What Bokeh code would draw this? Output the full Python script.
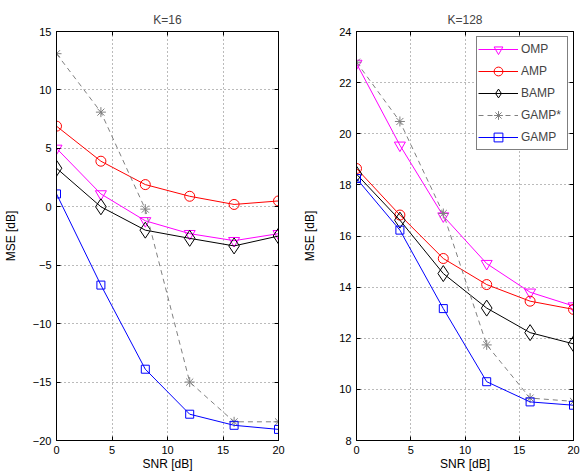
from bokeh.plotting import figure
from bokeh.layouts import row
from bokeh.models import FixedTicker, Range1d, Legend, LinearAxis
from bokeh.embed import file_html
from bokeh.resources import INLINE

snr = [0, 4, 8, 12, 16, 20]

# K=16
k16_omp = [5.0, 1.1, -1.2, -2.3, -2.9, -2.3]
k16_amp = [6.9, 3.9, 1.9, 0.9, 0.2, 0.5]
k16_bamp = [3.3, 0.0, -2.0, -2.7, -3.35, -2.5]
k16_gamps = [13.1, 8.1, -0.2, -15.0, -18.4, -18.4]
k16_gamp = [1.1, -6.7, -13.9, -17.75, -18.7, -19.05]

# K=128
k128_omp = [22.75, 19.55, 16.78, 14.92, 13.8, 13.26]
k128_amp = [18.64, 16.82, 15.12, 14.1, 13.45, 13.13]
k128_bamp = [18.42, 16.62, 14.53, 13.18, 12.22, 11.78]
k128_gamps = [22.8, 20.48, 16.88, 11.74, 9.66, 9.53]
k128_gamp = [18.25, 16.23, 13.16, 10.3, 9.51, 9.38]

x_ticks = [0, 5, 10, 15, 20]
y16_ticks = [-20, -15, -10, -5, 0, 5, 10, 15]
y128_ticks = [8, 10, 12, 14, 16, 18, 20, 22, 24]

FONT = "Liberation Sans"

styles = [
    ("OMP", "#ff00ff", "inverted_triangle", 11, "solid"),
    ("AMP", "#ff0000", "circle", 10, "solid"),
    ("BAMP", "#000000", "diamond", 16, "solid"),
    ("GAMP*", "#808080", "asterisk", 10, "5 4"),
    ("GAMP", "#0000ff", "square", 8, "solid"),
]


def style_axis(ax, ticks, labels=True):
    ax.ticker = FixedTicker(ticks=ticks)
    ax.major_tick_in = 4
    ax.major_tick_out = 0
    ax.minor_tick_in = 0
    ax.minor_tick_out = 0
    ax.axis_line_color = "black"
    ax.major_tick_line_color = "black"
    ax.major_label_text_font = FONT
    ax.major_label_text_font_size = "11px"
    ax.major_label_text_color = "black"
    ax.axis_label_text_font = FONT
    ax.axis_label_text_font_size = "12px"
    ax.axis_label_text_font_style = "normal"
    ax.axis_label_text_color = "black"
    if not labels:
        ax.major_label_text_font_size = "0px"
        ax.major_label_text_alpha = 0
        ax.major_label_standoff = 0


def make_fig(title, series, yr, yticks, width, bl, br, ylab_standoff, legend):
    p = figure(width=width, height=473, output_backend="svg", toolbar_location=None,
               x_range=Range1d(0, 20), y_range=Range1d(*yr),
               min_border_left=bl, min_border_right=br, min_border_top=31, min_border_bottom=32)
    p.title.text = title
    p.title.text_font = FONT
    p.title.text_font_size = "12px"
    p.title.text_font_style = "normal"
    p.title.align = "center"
    p.title.offset = 0
    p.outline_line_color = "black"
    p.outline_line_alpha = 1
    p.background_fill_color = "white"
    xax = p.xaxis[0]
    yax = p.yaxis[0]
    style_axis(xax, x_ticks)
    style_axis(yax, yticks)
    xax.axis_label = "SNR [dB]"
    yax.axis_label = "MSE [dB]"
    xax.major_label_standoff = 5
    xax.axis_label_standoff = 0
    yax.major_label_standoff = 5
    yax.axis_label_standoff = ylab_standoff
    top = LinearAxis()
    right = LinearAxis()
    style_axis(top, x_ticks, labels=False)
    style_axis(right, yticks, labels=False)
    p.add_layout(top, "above")
    p.add_layout(right, "right")
    for g in p.grid:
        g.grid_line_color = "#555555"
        g.grid_line_dash = "1 3"
        g.grid_line_alpha = 0.8
    p.xgrid.ticker = FixedTicker(ticks=x_ticks)
    p.ygrid.ticker = FixedTicker(ticks=yticks)

    items = []
    for (name, color, marker, size, dash), ys in zip(styles, series):
        r1 = p.line(snr, ys, line_color=color, line_width=1, line_dash=dash)
        r2 = p.scatter(snr, ys, marker=marker, size=size, line_color=color,
                       fill_color=None, line_width=1)
        items.append((name, [r1, r2]))
    if legend:
        lg = Legend(items=items, location="top_right")
        lg.border_line_color = "black"
        lg.border_line_width = 1
        lg.label_text_font = FONT
        lg.label_text_font_size = "12px"
        lg.glyph_width = 40
        lg.glyph_height = 22
        lg.label_height = 22
        lg.label_width = 45
        lg.spacing = -8
        lg.padding = 1
        lg.margin = 5
        lg.label_standoff = 3
        lg.background_fill_alpha = 1
        p.add_layout(lg, "center")
    return p


p1 = make_fig("K=16", [k16_omp, k16_amp, k16_bamp, k16_gamps, k16_gamp], (-20, 15), y16_ticks,
              300, 53, 22, 12, False)
p2 = make_fig("K=128", [k128_omp, k128_amp, k128_bamp, k128_gamps, k128_gamp], (8, 24), y128_ticks,
              281, 49, 8, 19, True)

layout = row(p1, p2)
open("out.html", "w").write(file_html(layout, INLINE))
